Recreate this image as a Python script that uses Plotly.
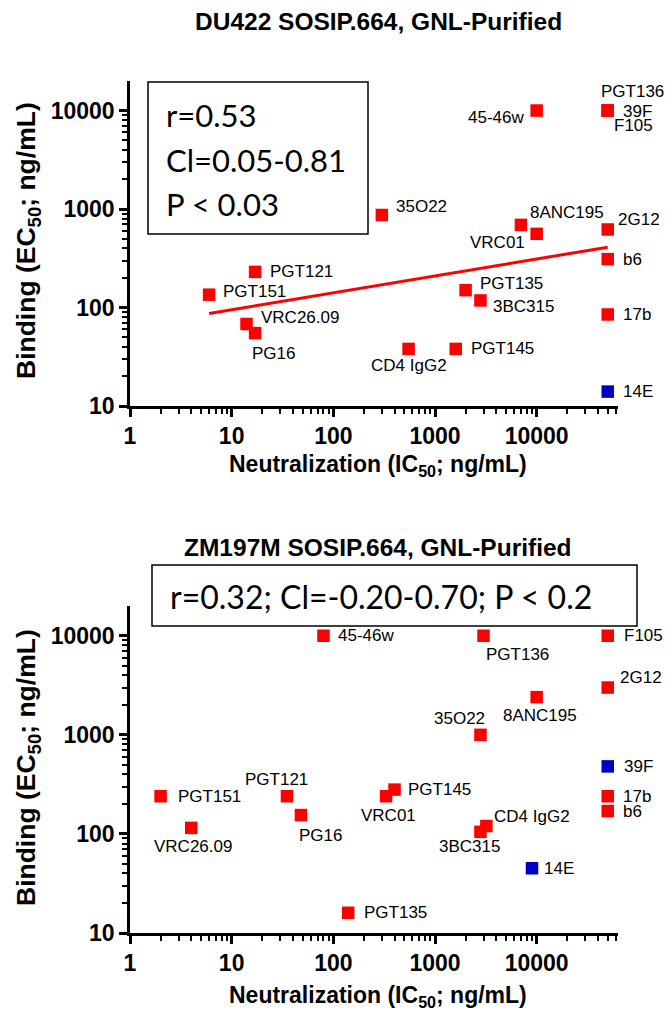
import numpy as np
import plotly.graph_objects as go

# ---- DU422 panel (top) ----
du_names = ['45-46w', 'PGT136', '39F', 'F105', '35O22', '8ANC195', 'VRC01', '2G12', 'b6', '17b',
            'PGT121', 'PGT151', 'VRC26.09', 'PG16', 'PGT135', '3BC315', 'CD4 IgG2', 'PGT145', '14E']
du_ic50 = [10000, 50000, 50000, 50000, 300, 7000, 10000, 50000, 50000, 50000,
           17, 6, 14, 17, 2000, 2800, 550, 1600, 50000]
du_ec50 = [10000, 10000, 10000, 10000, 870, 690, 560, 620, 310, 85,
           230, 135, 68, 55, 150, 118, 38, 38, 14]
du_group = ['r'] * 18 + ['b']
du_fit_x = [6, 50000]
du_fit_y = [87, 410]
du_stats = ['r=0.53', 'Cl=0.05-0.81', 'P < 0.03']

# ---- ZM197M panel (bottom) ----
zm_names = ['45-46w', 'PGT136', 'F105', '2G12', '8ANC195', '35O22', '39F', '17b', 'b6',
            'PGT151', 'PGT121', 'PG16', 'VRC26.09', 'VRC01', 'PGT145', 'CD4 IgG2', '3BC315', '14E', 'PGT135']
zm_ic50 = [80, 3000, 50000, 50000, 10000, 2800, 50000, 50000, 50000,
           2, 35, 48, 4, 330, 400, 3200, 2800, 9000, 140]
zm_ec50 = [10000, 10000, 10000, 3000, 2400, 1000, 480, 240, 170,
           240, 240, 155, 115, 240, 280, 120, 105, 45, 16]
zm_group = ['r', 'r', 'r', 'r', 'r', 'r', 'b', 'r', 'r',
            'r', 'r', 'r', 'r', 'r', 'r', 'r', 'r', 'b', 'r']
zm_stats = ['r=0.32; Cl=-0.20-0.70; P < 0.2']

x_ticks = [1, 10, 100, 1000, 10000]
y_ticks = [10, 100, 1000, 10000]

# label placement (anchor, dx, dy in px relative to marker centre)
du_lab = [('r', -11, 7), ('c', 25, -19), ('l', 13, 1), ('c', 26, 15), ('l', 12, -8),
          ('l', 7, -12), ('r', -10, 9), ('l', 8, -10), ('l', 13, 0), ('l', 13, 0),
          ('l', 13, 0), ('l', 12, -3), ('l', 12, -7), ('c', 18, 20), ('l', 12, -7),
          ('l', 11, 6), ('c', 0, 17), ('l', 13, 0), ('l', 13, 0)]
zm_lab = [('l', 13, 0), ('c', 34, 19), ('l', 14, 0), ('l', 10, -10), ('c', 3, 18),
          ('c', -21, -16), ('l', 14, 0), ('l', 13, 0), ('l', 13, 0),
          ('l', 15, 0), ('c', -10, -17), ('c', 20, 20), ('c', 2, 19), ('c', 2, 19),
          ('l', 11, 0), ('l', 6, -10), ('c', -11, 15), ('l', 10, 0), ('l', 14, 0)]

RED = '#FF0000'
BLUE = '#0000C0'
FONT = 'Liberation Sans, Arial, sans-serif'
W, H = 672, 1010
L, R = 130, 54


def px_x(p):
    return (p - L) / (W - L - R)


def px_y(p):
    return 1 - p / H


fig = go.Figure()


def add_panel(names, xs, ys, groups, labs, xa, ya):
    cols = [RED if g == 'r' else BLUE for g in groups]
    fig.add_trace(go.Scatter(x=xs, y=ys, mode='markers', xaxis=xa, yaxis=ya,
                             marker=dict(symbol='square', size=12.5, color=cols, line=dict(width=0)),
                             showlegend=False, hoverinfo='text', text=names))
    for n, x, y, (a, dx, dy) in zip(names, xs, ys, labs):
        fig.add_annotation(x=np.log10(x), y=np.log10(y), xref=xa, yref=ya, text=n, showarrow=False,
                           xanchor={'l': 'left', 'r': 'right', 'c': 'center'}[a], yanchor='middle',
                           xshift=dx, yshift=-dy, font=dict(family=FONT, size=17, color='black'))


add_panel(du_names, du_ic50, du_ec50, du_group, du_lab, 'x', 'y')
fig.add_trace(go.Scatter(x=du_fit_x, y=du_fit_y, mode='lines', line=dict(color=RED, width=3),
                         xaxis='x', yaxis='y', showlegend=False))
add_panel(zm_names, zm_ic50, zm_ec50, zm_group, zm_lab, 'x2', 'y2')

x_minor = [m * 10 ** d for d in range(0, 5) for m in range(2, 10) if m * 10 ** d <= 63000]
y_minor = [m * 10 ** d for d in range(1, 5) for m in range(2, 10) if m * 10 ** d <= 20000]


def axis_common(vals, minor, rng):
    return dict(type='log', range=rng, tickvals=vals, ticktext=['<b>%d</b>' % v for v in vals],
                tickfont=dict(family=FONT, size=23, color='black'),
                ticks='outside', ticklen=8, tickwidth=2.5, tickcolor='black',
                minor=dict(tickvals=minor, ticks='outside', ticklen=5, tickwidth=2, tickcolor='black'),
                showline=True, linecolor='black', linewidth=2.5, showgrid=False, zeroline=False)


top_dom = [px_y(406), px_y(81)]
bot_dom = [px_y(933), px_y(606)]
fig.update_layout(
    width=W, height=H, margin=dict(l=L, r=R, t=0, b=0, autoexpand=False),
    plot_bgcolor='white', paper_bgcolor='white', showlegend=False,
    xaxis=dict(axis_common(x_ticks, x_minor, [0, 4.8]), domain=[0, 1], anchor='y'),
    yaxis=dict(axis_common(y_ticks, y_minor, [1, 4.3]), domain=top_dom, anchor='x'),
    xaxis2=dict(axis_common(x_ticks, x_minor, [0, 4.8]), domain=[0, 1], anchor='y2'),
    yaxis2=dict(axis_common(y_ticks, y_minor, [1, 4.3]), domain=bot_dom, anchor='x2'),
)

# titles and axis titles
for txt, yp in [('DU422 SOSIP.664, GNL-Purified', 21), ('ZM197M SOSIP.664, GNL-Purified', 547)]:
    fig.add_annotation(x=px_x(378), y=px_y(yp), xref='paper', yref='paper', text='<b>%s</b>' % txt,
                       showarrow=False, xanchor='center', yanchor='middle',
                       font=dict(family=FONT, size=24.5, color='black'))
for yp in [466, 996]:
    fig.add_annotation(x=px_x(378), y=px_y(yp), xref='paper', yref='paper',
                       text='<b>Neutralization (IC<sub>50</sub>; ng/mL)</b>',
                       showarrow=False, xanchor='center', yanchor='middle',
                       font=dict(family=FONT, size=23, color='black'))
for yp in [241, 768]:
    fig.add_annotation(x=px_x(28), y=px_y(yp), xref='paper', yref='paper',
                       text='<b>Binding (EC<sub>50</sub>; ng/mL)</b>', textangle=-90,
                       showarrow=False, xanchor='center', yanchor='middle',
                       font=dict(family=FONT, size=26.5, color='black'))

# stats boxes
BOXFONT = 'Lato, Open Sans, sans-serif'
fig.add_shape(type='rect', xref='paper', yref='paper', x0=px_x(148), x1=px_x(368), y0=px_y(234), y1=px_y(82),
              line=dict(color='black', width=1.5), fillcolor='white', layer='below')
for i, s in enumerate(du_stats):
    fig.add_annotation(x=px_x(164), y=px_y(115 + 44.5 * i), xref='paper', yref='paper', text=s,
                       showarrow=False, xanchor='left', yanchor='middle',
                       font=dict(family=BOXFONT, size=31, color='black'))
fig.add_shape(type='rect', xref='paper', yref='paper', x0=px_x(152), x1=px_x(637), y0=px_y(626), y1=px_y(565),
              line=dict(color='black', width=1.5), fillcolor='white')
fig.add_annotation(x=px_x(381), y=px_y(596), xref='paper', yref='paper', text=zm_stats[0],
                   showarrow=False, xanchor='center', yanchor='middle',
                   font=dict(family=BOXFONT, size=32, color='black'))

fig.write_html('out.html', config={'displayModeBar': False},
               post_script="document.body.style.margin='0px';")
